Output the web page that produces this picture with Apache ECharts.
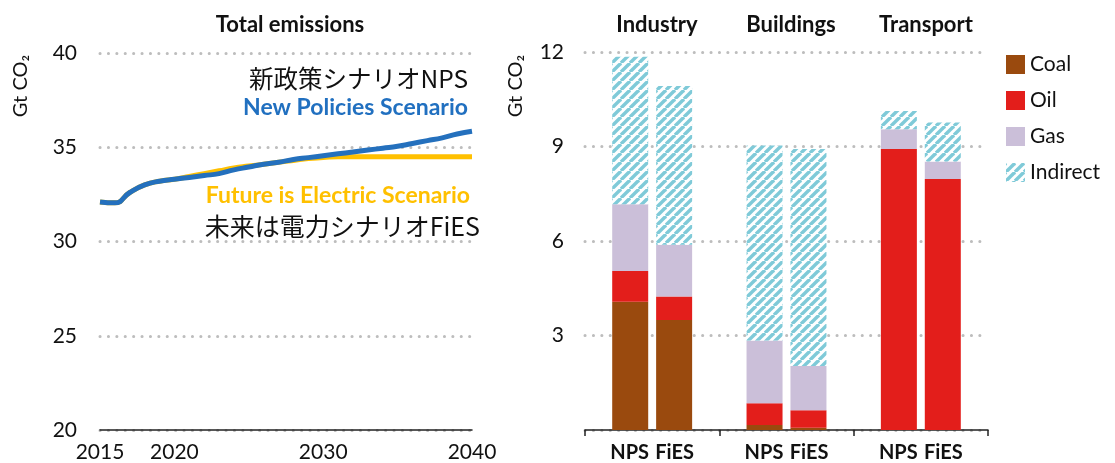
<!DOCTYPE html>
<html><head><meta charset="utf-8">
<script src="https://cdn.jsdelivr.net/npm/echarts@6/dist/echarts.min.js"></script>
<style>html,body{margin:0;padding:0;background:#fff}#c{width:1115px;height:463px}</style>
</head><body><div id="c"></div>
<script>
// ---- data ----
const years = [2015,2016,2017,2018,2019,2020,2021,2022,2023,2024,2025,2026,2027,2028,2029,2030,2031,2032,2033,2034,2035,2036,2037,2038,2039,2040];
const npsTotal = [32.1,32.05,32.6,33.0,33.2,33.3,33.4,33.5,33.6,33.8,33.95,34.1,34.2,34.35,34.45,34.55,34.65,34.75,34.85,34.95,35.05,35.2,35.35,35.5,35.7,35.85];
const fiesTotal = [32.1,32.05,32.6,33.0,33.2,33.3,33.45,33.6,33.75,33.9,34.0,34.1,34.2,34.3,34.4,34.45,34.5,34.5,34.5,34.5,34.5,34.5,34.5,34.5,34.5,34.5];
const yearTicks = [2015,2020,2030,2040];
const sectors = ['Industry','Buildings','Transport'];
const fuels = ['Coal','Oil','Gas','Indirect'];
const coalNPS = [4.07,0.16,0];
const oilNPS = [0.98,0.69,8.92];
const gasNPS = [2.12,1.99,0.63];
const indirectNPS = [4.68,6.19,0.58];
const coalFiES = [3.49,0.07,0];
const oilFiES = [0.75,0.56,7.97];
const gasFiES = [1.64,1.40,0.55];
const indirectFiES = [5.04,6.89,1.24];

// ---- styles ----
const FONT = 'Lato, "Open Sans", sans-serif';
function stripes(){
  const c=document.createElement('canvas'); c.width=c.height=9;
  const g=c.getContext('2d'); g.fillStyle='#fff'; g.fillRect(0,0,9,9);
  g.strokeStyle='#7fcad8'; g.lineWidth=3.4;
  [-9,0,9].forEach(k=>{g.beginPath();g.moveTo(k,9);g.lineTo(k+9,0);g.stroke();});
  return c;
}
const fuelColors = {Coal:'#9a4a0e', Oil:'#e31e1b', Gas:'#cbbfd9', Indirect:{image:stripes(), repeat:'repeat'}};
const splitLine = {show:true, lineStyle:{color:'#bdbdbd', width:3, type:[0.1,8.3], cap:'round'}};
const titleStyle = {fontFamily:FONT, fontSize:22, fontWeight:'bold', color:'#111'};

const chart = echarts.init(document.getElementById('c'), null, {renderer:'canvas'});
const barSets = {NPS:[coalNPS,oilNPS,gasNPS,indirectNPS], FiES:[coalFiES,oilFiES,gasFiES,indirectFiES]};
const barSeries = [];
['NPS','FiES'].forEach(sc=>{
  fuels.forEach((f,i)=>{
    barSeries.push({type:'bar', name:f, stack:sc, xAxisIndex:1, yAxisIndex:1,
      barWidth:36, barGap:'22%', data:barSets[sc][i],
      itemStyle:{color:fuelColors[f]}});
  });
});

chart.setOption({
  animation:false,
  textStyle:{fontFamily:FONT},
  title:[
    {text:'Total emissions', left:285, top:9, textAlign:'center', textStyle:titleStyle},
    {text:'Industry', left:652, top:9, textAlign:'center', textStyle:titleStyle},
    {text:'Buildings', left:786, top:9, textAlign:'center', textStyle:titleStyle},
    {text:'Transport', left:921, top:9, textAlign:'center', textStyle:titleStyle}
  ],
  legend:{data:fuels, icon:'rect', orient:'vertical', left:1001, top:49, itemWidth:19, itemHeight:19, itemGap:15,
    textStyle:{fontFamily:FONT, fontSize:21, color:'#111'}, selectedMode:false},
  grid:[
    {left:100, right:643, top:53, bottom:33},
    {left:585, right:127, top:52, bottom:33}
  ],
  xAxis:[
    {type:'value', gridIndex:0, min:2015, max:2040, interval:5,
      axisLine:{show:true, lineStyle:{color:'#222', width:1.5}}, axisTick:{show:false}, splitLine:{show:false},
      axisLabel:{fontSize:21, color:'#111', margin:12, fontFamily:FONT,
        formatter:v=>yearTicks.includes(v)?String(v):''}},
    {type:'category', gridIndex:1, data:sectors,
      axisLine:{show:true, lineStyle:{color:'#222', width:1.5}},
      axisTick:{show:true, length:6, lineStyle:{color:'#222', width:1.5}},
      axisLabel:{margin:13, formatter:()=>'{a|NPS}{b|FiES}',
        rich:{a:{width:45, align:'center', fontSize:20, fontWeight:'bold', color:'#111', fontFamily:FONT},
              b:{width:45, align:'center', fontSize:20, fontWeight:'bold', color:'#111', fontFamily:FONT}}}}
  ],
  yAxis:[
    {type:'value', gridIndex:0, min:20, max:40, interval:5, axisLine:{show:false}, axisTick:{show:false},
      axisLabel:{fontSize:21, color:'#111', margin:23, fontFamily:FONT}, splitLine:splitLine},
    {type:'value', gridIndex:1, min:0, max:12, interval:3, axisLine:{show:false}, axisTick:{show:false},
      axisLabel:{fontSize:21, color:'#111', margin:21, fontFamily:FONT, formatter:v=>v===0?'':String(v)}, splitLine:splitLine}
  ],
  graphic:[
    {type:'text', x:21, y:86, rotation:Math.PI/2, style:{text:'Gt CO₂', fontSize:20, fontFamily:FONT, fill:'#111', align:'center', verticalAlign:'middle'}},
    {type:'text', x:516, y:86, rotation:Math.PI/2, style:{text:'Gt CO₂', fontSize:20, fontFamily:FONT, fill:'#111', align:'center', verticalAlign:'middle'}},
    {type:'text', x:468, y:79, style:{text:'新政策シナリオNPS', fontSize:24.5, fontWeight:400, fontFamily:'"Noto Sans CJK JP"', fill:'#111', align:'right', verticalAlign:'middle'}},
    {type:'text', x:468, y:108, style:{text:'New Policies Scenario', fontSize:23, fontWeight:'bold', fontFamily:FONT, fill:'#2170c0', align:'right', verticalAlign:'middle'}},
    {type:'text', x:470, y:196, style:{text:'Future is Electric Scenario', fontSize:23, fontWeight:'bold', fontFamily:FONT, fill:'#ffc000', align:'right', verticalAlign:'middle'}},
    {type:'text', x:480, y:226, style:{text:'未来は電力シナリオFiES', fontSize:25, fontWeight:400, fontFamily:'"Noto Sans CJK JP"', fill:'#111', align:'right', verticalAlign:'middle'}}
  ],
  series:[
    {type:'line', name:'FiES', xAxisIndex:0, yAxisIndex:0, data:years.map((y,i)=>[y,fiesTotal[i]]),
      showSymbol:false, smooth:true, lineStyle:{color:'#ffc000', width:5}},
    {type:'line', name:'NPS', xAxisIndex:0, yAxisIndex:0, data:years.map((y,i)=>[y,npsTotal[i]]),
      showSymbol:false, smooth:true, lineStyle:{color:'#2470bd', width:5}}
  ].concat(barSeries)
});
</script></body></html>
